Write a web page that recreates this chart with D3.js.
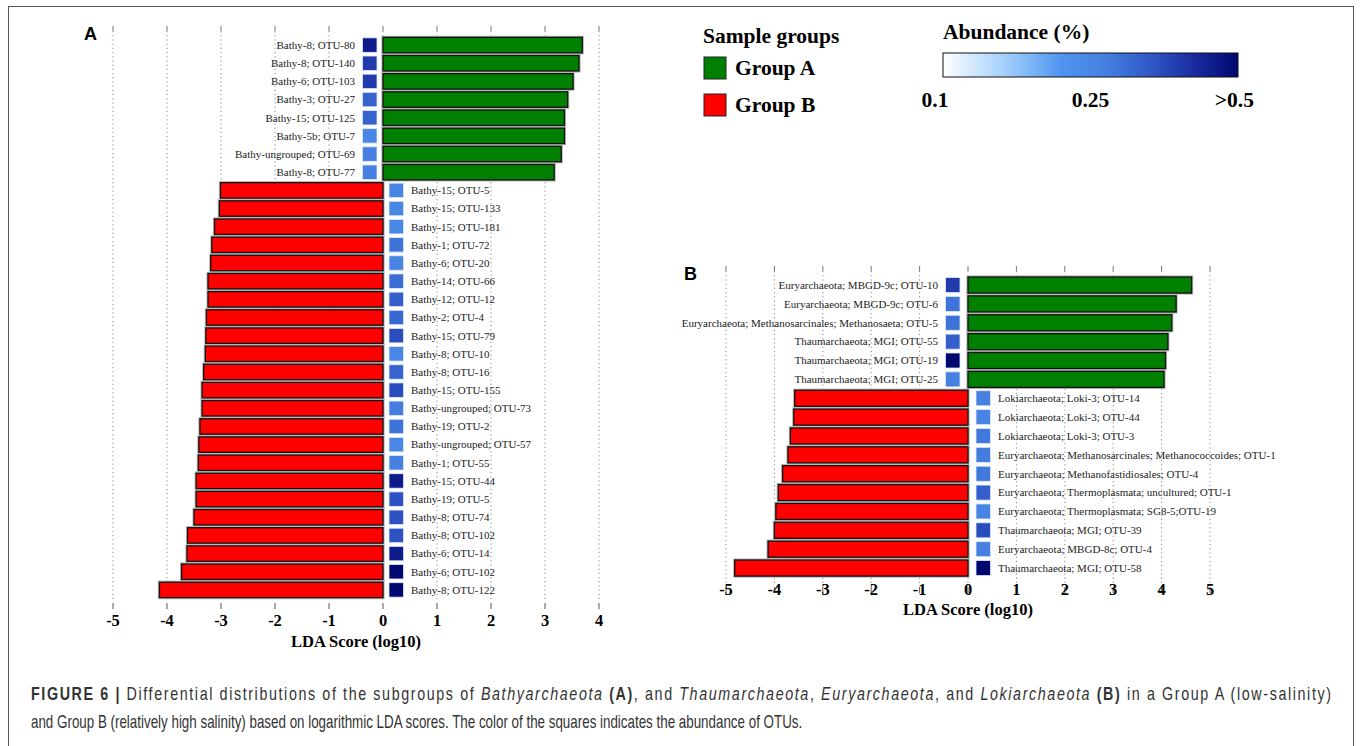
<!DOCTYPE html>
<html>
<head>
<meta charset="utf-8">
<script src="https://cdn.jsdelivr.net/npm/d3@7"></script>
<style>
    body { margin: 0; background: #fff; }
    svg text { font-family: "Liberation Serif", "Times New Roman", serif; }
    .caption text { font-family: "Liberation Sans", Arial, sans-serif; }
</style>
</head>
<body>
<div id="chart"></div>
<script>
// Panel A - Bathyarchaeota subgroups (positive = Group A, negative = Group B)
const aLabels = [
    "Bathy-8; OTU-80", "Bathy-8; OTU-140", "Bathy-6; OTU-103", "Bathy-3; OTU-27",
    "Bathy-15; OTU-125", "Bathy-5b; OTU-7", "Bathy-ungrouped; OTU-69", "Bathy-8; OTU-77",
    "Bathy-15; OTU-5", "Bathy-15; OTU-133", "Bathy-15; OTU-181", "Bathy-1; OTU-72",
    "Bathy-6; OTU-20", "Bathy-14; OTU-66", "Bathy-12; OTU-12", "Bathy-2; OTU-4",
    "Bathy-15; OTU-79", "Bathy-8; OTU-10", "Bathy-8; OTU-16", "Bathy-15; OTU-155",
    "Bathy-ungrouped; OTU-73", "Bathy-19; OTU-2", "Bathy-ungrouped; OTU-57", "Bathy-1; OTU-55",
    "Bathy-15; OTU-44", "Bathy-19; OTU-5", "Bathy-8; OTU-74", "Bathy-8; OTU-102",
    "Bathy-6; OTU-14", "Bathy-6; OTU-102", "Bathy-8; OTU-122"
];
const aScores = [
    3.69, 3.63, 3.52, 3.42, 3.36, 3.36, 3.30, 3.17,
    -3.01, -3.03, -3.12, -3.17, -3.19, -3.24, -3.24, -3.27,
    -3.28, -3.29, -3.32, -3.35, -3.35, -3.39, -3.41, -3.42,
    -3.46, -3.46, -3.50, -3.62, -3.63, -3.73, -4.14
];
const aAbundance = [
    0.46, 0.40, 0.40, 0.33, 0.33, 0.25, 0.27, 0.27,
    0.26, 0.25, 0.25, 0.30, 0.26, 0.31, 0.34, 0.32,
    0.37, 0.25, 0.33, 0.37, 0.28, 0.30, 0.25, 0.27,
    0.46, 0.36, 0.36, 0.36, 0.46, 0.50, 0.50
];
const aTicks = [-5, -4, -3, -2, -1, 0, 1, 2, 3, 4];

// Panel B - Thaumarchaeota, Euryarchaeota and Lokiarchaeota
const bLabels = [
    "Euryarchaeota; MBGD-9c; OTU-10", "Euryarchaeota; MBGD-9c; OTU-6",
    "Euryarchaeota; Methanosarcinales; Methanosaeta; OTU-5", "Thaumarchaeota; MGI; OTU-55",
    "Thaumarchaeota; MGI; OTU-19", "Thaumarchaeota; MGI; OTU-25",
    "Lokiarchaeota; Loki-3; OTU-14", "Lokiarchaeota; Loki-3; OTU-44", "Lokiarchaeota; Loki-3; OTU-3",
    "Euryarchaeota; Methanosarcinales; Methanococcoides; OTU-1", "Euryarchaeota; Methanofastidiosales; OTU-4",
    "Euryarchaeota; Thermoplasmata; uncultured; OTU-1", "Euryarchaeota; Thermoplasmata; SG8-5;OTU-19",
    "Thaumarchaeota; MGI; OTU-39", "Euryarchaeota; MBGD-8c; OTU-4", "Thaumarchaeota; MGI; OTU-58"
];
const bScores = [
    4.62, 4.30, 4.21, 4.13, 4.08, 4.05,
    -3.58, -3.60, -3.67, -3.72, -3.83, -3.92, -3.97, -4.00, -4.13, -4.82
];
const bAbundance = [
    0.40, 0.30, 0.30, 0.34, 0.50, 0.27,
    0.27, 0.26, 0.29, 0.28, 0.29, 0.34, 0.26, 0.37, 0.27, 0.50
];
const bTicks = [-5, -4, -3, -2, -1, 0, 1, 2, 3, 4, 5];

// legends
const groupNames = ["Group A", "Group B"];
const abundanceLabels = ["0.1", "0.25", ">0.5"];
const abundanceValues = [0.1, 0.25, 0.5];

const groupColor = d => d >= 0 ? "#008000" : "#ff0000";

// abundance -> position on the ramp -> colour
const rampPos = d3.scaleLinear().domain(abundanceValues).range([0, 0.5, 1]).clamp(true);
const rampOffsets = [0, 0.2, 0.4, 0.55, 0.7, 0.85, 1];
const rampColors = ["#ffffff", "#a8d2fc", "#4f95f0", "#4580e0", "#3059c8", "#1a2ca0", "#000870"];
const ramp = d3.scaleLinear().domain(rampOffsets).range(rampColors);
const abundanceColor = v => ramp(rampPos(v));

const svg = d3.select("#chart").append("svg")
    .attr("width", 1360)
    .attr("height", 746);

// frame round the whole figure
svg.append("rect")
    .attr("x", 8.5).attr("y", 6.5)
    .attr("width", 1345).attr("height", 760)
    .attr("fill", "none")
    .attr("stroke", "#555")
    .attr("stroke-width", 1);

class LdaPanel {

    constructor(cfg) {
        this.cfg = cfg;
        this.initVis();
    }

    initVis() {
        let vis = this;
        let c = vis.cfg;

        vis.g = svg.append("g");

        vis.xScale = d3.scaleLinear()
            .domain(d3.extent(c.ticks))
            .range(c.xRange);
        vis.yScale = d3.scaleBand()
            .domain(d3.range(c.labels.length))
            .range(c.yRange)
            .paddingInner(0.15)
            .paddingOuter(0.075);

        vis.data = c.labels.map((l, i) => ({label: l, score: c.scores[i], abund: c.abundance[i], i: i}));

        vis.drawGrid();
        vis.drawBars();
        vis.drawAxis();
    }

    drawGrid() {
        let vis = this;
        let c = vis.cfg;

        // dotted gridlines with a short solid tick on top
        vis.g.selectAll(".grid")
            .data(c.ticks)
            .enter().append("line")
            .attr("class", "grid")
            .attr("x1", d => vis.xScale(d)).attr("x2", d => vis.xScale(d))
            .attr("y1", c.gridTop + 5).attr("y2", c.gridBottom)
            .attr("stroke", "#888")
            .attr("stroke-width", 1)
            .attr("stroke-dasharray", "1.2,3");

        vis.g.selectAll(".top-tick")
            .data(c.ticks)
            .enter().append("line")
            .attr("class", "top-tick")
            .attr("x1", d => vis.xScale(d)).attr("x2", d => vis.xScale(d))
            .attr("y1", c.gridTop).attr("y2", c.gridTop + 5)
            .attr("stroke", "#777")
            .attr("stroke-width", 1);

        vis.g.append("text")
            .attr("x", c.letterX).attr("y", c.letterY)
            .style("font-family", "'Liberation Sans', Arial, sans-serif")
            .style("font-weight", "bold")
            .style("font-size", "18px")
            .text(c.letter);
    }

    drawBars() {
        let vis = this;
        let c = vis.cfg;
        let x0 = vis.xScale(0);
        let bh = vis.yScale.bandwidth();

        let rows = vis.g.selectAll(".row")
            .data(vis.data)
            .enter().append("g")
            .attr("class", "row")
            .attr("transform", d => `translate(0,${vis.yScale(d.i)})`);

        // light halo then black outline
        rows.append("rect")
            .attr("x", d => vis.xScale(Math.min(0, d.score)))
            .attr("width", d => Math.abs(vis.xScale(d.score) - x0))
            .attr("height", bh)
            .attr("fill", "none")
            .attr("stroke", "#b5b5b5")
            .attr("stroke-width", 3.2);

        rows.append("rect")
            .attr("x", d => vis.xScale(Math.min(0, d.score)))
            .attr("width", d => Math.abs(vis.xScale(d.score) - x0))
            .attr("height", bh)
            .attr("fill", d => groupColor(d.score))
            .attr("stroke", "#111")
            .attr("stroke-width", 1.3);

        // abundance squares on the opposite side of zero
        rows.append("rect")
            .attr("x", d => d.score >= 0 ? x0 - c.sqGap - c.sqSize : x0 + c.sqGap)
            .attr("y", 0.5)
            .attr("width", c.sqSize)
            .attr("height", bh - 1)
            .attr("fill", d => abundanceColor(d.abund))
            .attr("stroke", "#dfe8f8")
            .attr("stroke-width", 0.8);

        rows.append("text")
            .attr("x", d => d.score >= 0 ? x0 - c.labelGap : x0 + c.labelGap)
            .attr("y", bh / 2)
            .attr("dy", "0.35em")
            .attr("text-anchor", d => d.score >= 0 ? "end" : "start")
            .style("font-size", c.labelSize)
            .attr("fill", "#222")
            .text(d => d.label);
    }

    drawAxis() {
        let vis = this;
        let c = vis.cfg;

        vis.g.selectAll(".bottom-tick")
            .data(c.ticks)
            .enter().append("line")
            .attr("class", "bottom-tick")
            .attr("x1", d => vis.xScale(d)).attr("x2", d => vis.xScale(d))
            .attr("y1", c.gridBottom + 2).attr("y2", c.gridBottom + 8)
            .attr("stroke", "#555")
            .attr("stroke-width", 1);

        vis.g.selectAll(".tick-label")
            .data(c.ticks)
            .enter().append("text")
            .attr("class", "tick-label")
            .attr("x", d => vis.xScale(d))
            .attr("y", c.tickLabelY)
            .attr("text-anchor", "middle")
            .style("font-weight", "bold")
            .style("font-size", "16.5px")
            .text(d => d);

        vis.g.append("text")
            .attr("x", (vis.xScale.range()[0] + vis.xScale.range()[1]) / 2)
            .attr("y", c.titleY)
            .attr("text-anchor", "middle")
            .style("font-weight", "bold")
            .style("font-size", "16.5px")
            .text("LDA Score (log10)");
    }
}

new LdaPanel({
    letter: "A", letterX: 84, letterY: 40,
    labels: aLabels, scores: aScores, abundance: aAbundance, ticks: aTicks,
    xRange: [113, 599], yRange: [36, 599],
    gridTop: 26, gridBottom: 601,
    sqGap: 6, sqSize: 14.5, labelGap: 28, labelSize: "11px",
    tickLabelY: 626, titleY: 647
});

new LdaPanel({
    letter: "B", letterX: 684, letterY: 280,
    labels: bLabels, scores: bScores, abundance: bAbundance, ticks: bTicks,
    xRange: [726, 1210], yRange: [275.6, 577.5],
    gridTop: 266, gridBottom: 585,
    sqGap: 8, sqSize: 14.5, labelGap: 30, labelSize: "11px",
    tickLabelY: 595, titleY: 615
});

// ---- legends ----
let legend = svg.append("g");

legend.append("text")
    .attr("x", 703).attr("y", 43)
    .style("font-weight", "bold").style("font-size", "21.5px")
    .text("Sample groups");

let items = legend.selectAll(".item")
    .data(groupNames)
    .enter().append("g")
    .attr("transform", (d, i) => `translate(704,${57 + i * 37})`);

items.append("rect")
    .attr("width", 22).attr("height", 22)
    .attr("fill", (d, i) => groupColor(i === 0 ? 1 : -1))
    .attr("stroke", "#222").attr("stroke-width", 1);

items.append("text")
    .attr("x", 31).attr("y", 18)
    .style("font-weight", "bold").style("font-size", "21.5px")
    .text(d => d);

legend.append("text")
    .attr("x", 943).attr("y", 39)
    .style("font-weight", "bold").style("font-size", "21.5px")
    .text("Abundance (%)");

let grad = svg.append("defs").append("linearGradient")
    .attr("id", "abund-grad");
grad.selectAll("stop")
    .data(rampOffsets)
    .enter().append("stop")
    .attr("offset", d => d)
    .attr("stop-color", (d, i) => rampColors[i]);

const barX = 943, barW = 295;
legend.append("rect")
    .attr("x", barX).attr("y", 53)
    .attr("width", barW).attr("height", 24)
    .attr("fill", "url(#abund-grad)")
    .attr("stroke", "#111").attr("stroke-width", 1);

const barScale = d3.scaleLinear().domain([0, 1]).range([barX, barX + barW]);
legend.selectAll(".abund-label")
    .data(abundanceLabels)
    .enter().append("text")
    .attr("class", "abund-label")
    .attr("x", (d, i) => barScale(rampPos(abundanceValues[i])) + [-8, 0, 16][i])
    .attr("y", 107)
    .attr("text-anchor", (d, i) => i === 2 ? "end" : "middle")
    .style("font-weight", "bold").style("font-size", "21.5px")
    .text(d => d);

// ---- caption ----
// the journal font is condensed: squeeze horizontally, line 1 is justified
let cap = svg.append("g").attr("class", "caption")
    .style("font-size", "17.5px")
    .attr("fill", "#333");

let line1 = cap.append("text").attr("x", 0).attr("y", 700);

[
    ["FIGURE 6 | ", "bold", "normal"],
    ["Differential distributions of the subgroups of ", "normal", "normal"],
    ["Bathyarchaeota", "normal", "italic"],
    [" ", "normal", "normal"],
    ["(A)", "bold", "normal"],
    [", and ", "normal", "normal"],
    ["Thaumarchaeota", "normal", "italic"],
    [", ", "normal", "normal"],
    ["Euryarchaeota", "normal", "italic"],
    [", and ", "normal", "normal"],
    ["Lokiarchaeota", "normal", "italic"],
    [" ", "normal", "normal"],
    ["(B)", "bold", "normal"],
    [" in a Group A (low-salinity)", "normal", "normal"]
].forEach(p => {
    line1.append("tspan")
        .style("font-weight", p[1])
        .style("font-style", p[2])
        .text(p[0]);
});

let line2 = cap.append("text")
    .attr("x", 0).attr("y", 728)
    .text("and Group B (relatively high salinity) based on logarithmic LDA scores. The color of the squares indicates the abundance of OTUs.");

let squeeze = 772 / line2.node().getComputedTextLength();
let squeeze1 = squeeze * 1.07;
line1.attr("textLength", 1300 / squeeze1)
    .attr("lengthAdjust", "spacing")
    .attr("transform", `translate(31,0) scale(${squeeze1},1)`);
line2.attr("transform", `translate(31,0) scale(${squeeze},1)`);
</script>
</body>
</html>
